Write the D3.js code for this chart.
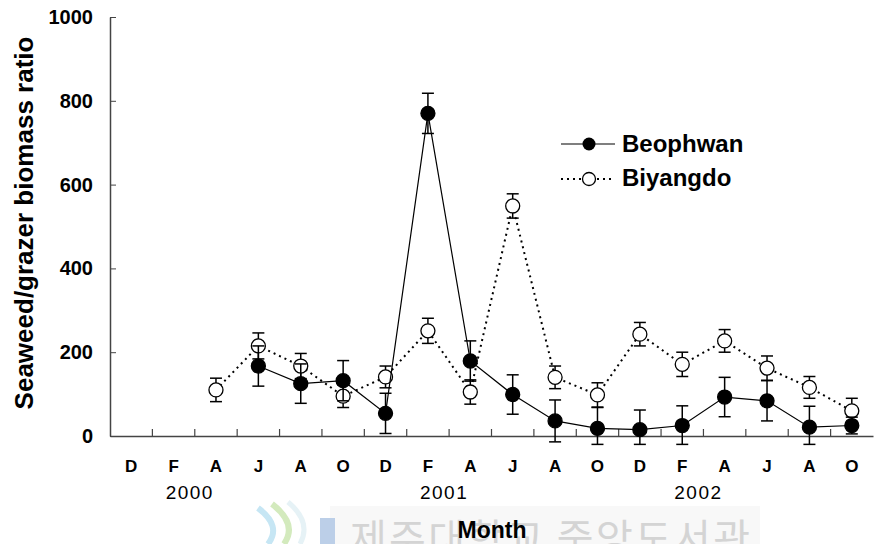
<!DOCTYPE html>
<html><head><meta charset="utf-8">
<script src="https://cdn.jsdelivr.net/npm/d3@7"></script>
<style>html,body{margin:0;padding:0;background:#fff;}svg{display:block;font-family:Arial,"Liberation Sans",sans-serif;}</style>
</head><body>
<svg id="c" width="874" height="544"></svg>
<script>
const months = ["D","F","A","J","A","O","D","F","A","J","A","O","D","F","A","J","A","O"];
const years = ["2000","2001","2002"];
const yearAt = [1, 7, 13]; // index of F month whose right side holds the year label
const beophwan = [null,null,null,167,125,132,54,770,179,99,36,18,15,25,93,84,21,25];
const beophwanErr = [null,null,null,48,47,48,48,48,48,47,50,50,47,47,47,48,50,20];
const biyangdo = [null,null,110,215,167,95,141,251,105,549,140,98,243,171,227,162,116,60];
const biyangdoErr = [null,null,28,31,30,27,26,30,29,29,27,29,28,29,27,29,26,30];
const yTicks = [0,200,400,600,800,1000];

(function(){
const svg = d3.select("#c");
const mLeft = 110, mRight = 873, mTop = 17, mBottom = 436;
const FF = "Arial,'Liberation Sans',sans-serif";

// watermark (faint, behind chart)
const wm = svg.append("g");
wm.append("rect").attr("x",330).attr("y",506).attr("width",430).attr("height",38).attr("fill","#f8f8f8");
wm.append("path").attr("d","M258,508 Q282,526 268,544").attr("fill","none").attr("stroke","#c6e6f4").attr("stroke-width",6);
wm.append("path").attr("d","M272,504 Q298,524 284,544").attr("fill","none").attr("stroke","#d3eabd").attr("stroke-width",6);
wm.append("path").attr("d","M288,502 Q312,522 300,544").attr("fill","none").attr("stroke","#e6f2f6").attr("stroke-width",5);
wm.append("rect").attr("x",320).attr("y",518).attr("width",15).attr("height",26).attr("fill","#bccfe8");
wm.append("text").attr("x",350).attr("y",553).attr("font-size",40).attr("fill","#d4d4d4")
  .attr("font-family","'Noto Sans CJK KR',sans-serif").attr("textLength",400).text("제주대학교 중앙도서관");

const x = d3.scaleBand().domain(d3.range(months.length)).range([mLeft, mRight]);
const y = d3.scaleLinear().domain([0,1000]).range([mBottom, mTop]);
const cx = i => x(i) + x.bandwidth()/2;

// axes
const yAxis = svg.append("g").attr("transform",`translate(${mLeft},0)`)
  .call(d3.axisLeft(y).tickValues(yTicks).tickFormat(d3.format("d")).tickSize(5).tickPadding(12).tickSizeOuter(0));
yAxis.select(".domain").attr("stroke","#444").attr("stroke-width",1.5);
yAxis.selectAll(".tick line").attr("stroke","#444").attr("x2",6).attr("x1",0);
yAxis.selectAll(".tick text").attr("font-size",20).attr("font-weight","bold").attr("fill","#000")
  .attr("font-family",FF);

const xAxis = svg.append("g").attr("transform",`translate(0,${mBottom})`)
  .call(d3.axisBottom(x).tickSize(0).tickFormat(i => months[i]).tickPadding(24).tickSizeOuter(0));
xAxis.select(".domain").attr("stroke","#444").attr("stroke-width",1.5);
xAxis.selectAll(".tick text").attr("font-size",17).attr("font-weight","bold").attr("fill","#000")
  .attr("font-family",FF);
svg.append("g").selectAll("line").data(d3.range(1, months.length)).join("line")
  .attr("x1", i => x(i)).attr("x2", i => x(i)).attr("y1", mBottom).attr("y2", mBottom-7)
  .attr("stroke","#444").attr("stroke-width",1.2);

svg.append("g").selectAll("text").data(years).join("text")
  .attr("x",(d,k)=> x(yearAt[k]+1) - 5).attr("y", 499).attr("text-anchor","middle")
  .attr("font-size",19).attr("letter-spacing","1.5px").text(d=>d);

svg.append("text").attr("transform","translate(33,223) rotate(-90)").attr("text-anchor","middle")
  .attr("font-size",26).attr("font-weight","bold").text("Seaweed/grazer biomass ratio");
svg.append("text").attr("x",492).attr("y",538).attr("text-anchor","middle")
  .attr("font-size",23).attr("font-weight","bold").text("Month");

function drawSeries(vals, errs, dash, filled){
  const pts = vals.map((v,i)=>({i,v,e:errs[i]})).filter(d=>d.v!==null);
  const line = d3.line().x(d=>cx(d.i)).y(d=>y(d.v));
  svg.append("path").datum(pts).attr("d",line).attr("fill","none").attr("stroke","#000")
    .attr("stroke-width", filled?1.2:2).attr("stroke-dasharray", dash);
  const g = svg.append("g");
  pts.forEach(d=>{
    const x0 = cx(d.i), yt = y(d.v + d.e), yb = y(Math.max(d.v - d.e, -20));
    g.append("line").attr("x1",x0).attr("x2",x0).attr("y1",yt).attr("y2",yb).attr("stroke","#000").attr("stroke-width",1.5);
    [yt,yb].forEach(yy=>g.append("line").attr("x1",x0-6).attr("x2",x0+6).attr("y1",yy).attr("y2",yy).attr("stroke","#000").attr("stroke-width",1.5));
  });
  svg.append("g").selectAll("circle").data(pts).join("circle")
    .attr("cx",d=>cx(d.i)).attr("cy",d=>y(d.v)).attr("r",7)
    .attr("fill",filled?"#000":"#fff").attr("stroke","#000").attr("stroke-width",1.3);
}
drawSeries(biyangdo, biyangdoErr, "2,4", false);
drawSeries(beophwan, beophwanErr, null, true);

const lg = svg.append("g");
lg.append("line").attr("x1",561).attr("x2",615).attr("y1",144).attr("y2",144).attr("stroke","#000").attr("stroke-width",1.2);
lg.append("circle").attr("cx",589).attr("cy",144).attr("r",6.5).attr("fill","#000");
lg.append("text").attr("x",622).attr("y",152).attr("font-size",24).attr("font-weight","bold").text("Beophwan");
lg.append("line").attr("x1",561).attr("x2",611).attr("y1",179).attr("y2",179).attr("stroke","#000").attr("stroke-width",2).attr("stroke-dasharray","2,4");
lg.append("circle").attr("cx",589).attr("cy",179).attr("r",6.5).attr("fill","#fff").attr("stroke","#000").attr("stroke-width",1.3);
lg.append("text").attr("x",622).attr("y",186).attr("font-size",24).attr("font-weight","bold").text("Biyangdo");
})();
</script>
</body></html>
